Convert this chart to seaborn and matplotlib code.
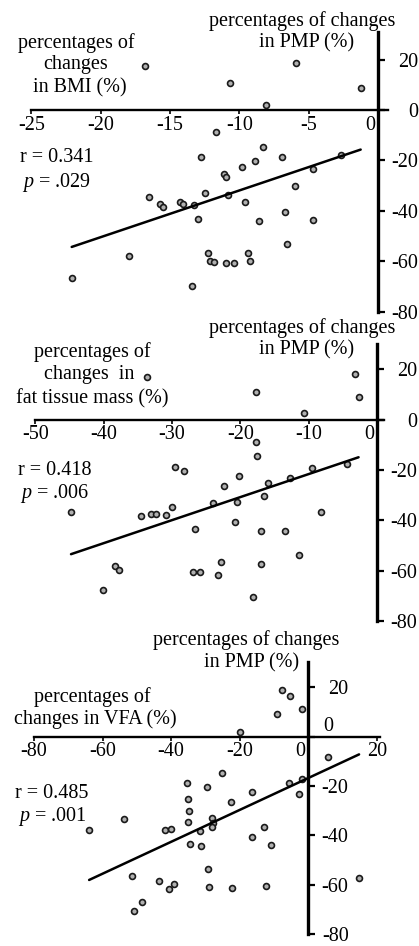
import numpy as np
import pandas as pd
import seaborn as sns
import matplotlib
matplotlib.use("Agg")
import matplotlib.pyplot as plt
from matplotlib.transforms import ScaledTranslation

# ---------------- data ----------------
bmi_x = [-16.8, -10.7, -5.9, -8.1, -1.25, -11.7, -8.3, -12.8, -6.9, -8.9,
         -9.8, -11.1, -11.0, -2.7, -4.7, -6.0, -10.8, -12.5, -16.5, -15.7,
         -15.5, -14.3, -14.1, -13.3, -9.6, -6.7, -13.0, -8.6, -4.7, -6.6,
         -18.0, -12.3, -12.1, -11.8, -11.0, -10.4, -9.4, -9.2, -22.1, -13.4]
bmi_pmp = [17.5, 10.8, 18.7, 1.9, 8.8, -8.7, -14.6, -18.7, -18.7, -20.3,
           -22.7, -25.5, -26.5, -17.8, -23.5, -30.2, -33.6, -33.0, -34.7, -37.5,
           -38.5, -36.5, -37.3, -37.6, -36.6, -40.3, -43.2, -44.0, -43.7, -53.2,
           -57.8, -56.6, -60.0, -60.3, -60.9, -60.9, -56.9, -60.0, -66.7, -69.8]

fat_x = [-33.7, -17.7, -3.2, -2.7, -10.7, -17.7, -44.8, -29.6, -28.2, -34.6,
         -33.1, -32.3, -30.9, -30.0, -26.6, -26.9, -25.9, -38.4, -37.8, -40.1,
         -24.0, -22.4, -20.8, -20.2, -20.5, -23.3, -22.8, -17.6, -15.9, -16.6,
         -17.0, -17.0, -18.1, -12.7, -13.5, -9.5, -8.2, -11.4, -4.4]
fat_pmp = [16.8, 11.0, 18.0, 8.9, 2.4, -9.0, -36.9, -18.7, -20.5, -38.4,
           -37.5, -37.6, -37.7, -34.7, -43.6, -60.7, -60.7, -58.3, -59.7, -67.6,
           -33.1, -26.4, -40.5, -22.4, -32.8, -61.7, -56.7, -14.4, -25.3, -30.4,
           -44.3, -57.3, -70.3, -23.1, -44.3, -19.1, -36.7, -53.6, -17.6]

vfa_x = [-7.8, -5.3, -9.2, -1.7, -19.9, 5.8, -5.5, -1.9, -16.5, -2.6,
         -12.9, -16.3, -10.9, 14.8, -63.9, -53.7, -51.5, -50.7, -48.4, -43.5,
         -40.6, -39.2, -41.8, -40.1, -35.5, -35.0, -34.7, -35.2, -34.5, -31.3,
         -31.6, -29.6, -28.2, -27.9, -28.2, -29.2, -29.0, -22.5, -22.3, -12.3,
         -25.3]
vfa_pmp = [18.9, 16.5, 9.0, 11.2, 2.0, -8.2, -18.9, -17.4, -22.6, -23.2,
           -36.7, -40.6, -44.0, -57.3, -37.7, -33.5, -56.6, -70.5, -67.2, -58.5,
           -61.8, -59.8, -37.7, -37.3, -18.8, -25.4, -30.2, -34.8, -43.7, -44.3,
           -38.4, -20.5, -33.1, -35.1, -36.8, -53.6, -60.9, -26.7, -61.3, -60.6,
           -14.8]

bmi_xticks = [-25, -20, -15, -10, -5, 0]
fat_xticks = [-50, -40, -30, -20, -10, 0]
vfa_xticks = [-80, -60, -40, -20, 0, 20]
pmp_yticks = [20, 0, -20, -40, -60, -80]

stats = [("r = 0.341", "$p$ = .029"),
         ("r = 0.418", "$p$ = .006"),
         ("r = 0.485", "$p$ = .001")]

# ---------------- style ----------------
sns.set_theme(style="white")
plt.rcParams["font.family"] = ["Liberation Serif", "DejaVu Serif"]
plt.rcParams["axes.unicode_minus"] = False
plt.rcParams["mathtext.fontset"] = "custom"
plt.rcParams["mathtext.rm"] = "Liberation Serif"
plt.rcParams["mathtext.it"] = "Liberation Serif:italic"
plt.rcParams["text.color"] = "black"

W, H = 419, 946
FS = 14.5
fig = plt.figure(figsize=(W / 100, H / 100), dpi=100)


def ftext(x, y, s, ha="center"):
    fig.text(x / W, 1 - y / H, s, ha=ha, va="center", fontsize=FS, color="black")


def panel(xs, ys, x0px, xsc, y0px, ysc, xlim, ylim, xticks, xbound, ybound,
          show_y0=True):
    left = x0px + xlim[0] * xsc
    right = x0px + xlim[1] * xsc
    top = y0px - ylim[1] * ysc
    bottom = y0px - ylim[0] * ysc
    ax = fig.add_axes([left / W, 1 - bottom / H, (right - left) / W, (bottom - top) / H])
    ax.set_facecolor("none")
    df = pd.DataFrame({"x": xs, "y": ys})
    sns.regplot(data=df, x="x", y="y", ax=ax, ci=None, truncate=True,
                scatter_kws=dict(s=18, facecolor="#b0b0b0", edgecolor="#1a1a1a",
                                 linewidths=1.2, alpha=1, zorder=3),
                line_kws=dict(color="black", lw=1.8, zorder=4))
    ax.set_xlim(*xlim)
    ax.set_ylim(*ylim)
    ax.set_xlabel("")
    ax.set_ylabel("")
    for s in ("left", "top"):
        ax.spines[s].set_visible(False)
    ax.spines["bottom"].set_position(("data", 0))
    ax.spines["right"].set_position(("data", 0))
    ax.spines["bottom"].set_bounds(*xbound)
    ax.spines["right"].set_bounds(*ybound)
    ax.spines["bottom"].set_linewidth(1.7)
    ax.spines["right"].set_linewidth(2.4)
    ax.spines["bottom"].set_color("black")
    ax.spines["right"].set_color("black")
    ax.spines["bottom"].set_zorder(2)
    ax.spines["right"].set_zorder(2)
    ax.yaxis.set_ticks_position("right")
    ax.xaxis.set_ticks_position("bottom")
    ax.set_xticks(xticks)
    ax.set_xticklabels([str(t) for t in xticks])
    ax.set_yticks(pmp_yticks)
    ax.set_yticklabels([str(t) if (t != 0 or show_y0) else "" for t in pmp_yticks])
    ax.tick_params(axis="x", direction="out", length=3, width=1.2, pad=1,
                   labelsize=FS, colors="black")
    ax.tick_params(axis="y", direction="out", length=5, width=1.6, pad=24,
                   labelsize=FS, colors="black")
    for lab in ax.get_yticklabels():
        lab.set_horizontalalignment("right")
    for t, lab in zip(xticks, ax.get_xticklabels()):
        if t == 0:
            lab.set_transform(lab.get_transform() +
                              ScaledTranslation(-8 / 100, 0, fig.dpi_scale_trans))
    ax.grid(False)
    return ax


# Panel 1: BMI
ax1 = panel(bmi_x, bmi_pmp, 378, 13.86, 110, 2.52, (-25.6, 2.8), (-82, 33),
            bmi_xticks, (-25, 0.7), (-80, 31))
ftext(302, 21, "percentages of changes")
ftext(307, 43, "in PMP (%)")
ftext(76, 43, "percentages of")
ftext(76, 65, "changes")
ftext(80, 88, "in BMI (%)")
ftext(20, 157, stats[0][0], ha="left")
ftext(22, 183, stats[0][1], ha="left")

# Panel 2: fat tissue mass
ax2 = panel(fat_x, fat_pmp, 377, 6.83, 419.5, 2.52, (-51.5, 5.5), (-82, 33),
            fat_xticks, (-50, 1.0), (-80, 30))
ftext(302, 328, "percentages of changes")
ftext(307, 350, "in PMP (%)")
ftext(92, 352, "percentages of")
ftext(89, 375, "changes  in")
ftext(92, 399, "fat tissue mass (%)")
ftext(18, 470, stats[1][0], ha="left")
ftext(20, 493, stats[1][1], ha="left")

# Panel 3: VFA
ax3 = panel(vfa_x, vfa_pmp, 308.3, 3.43, 736.5, 2.47, (-84, 31), (-82, 33),
            vfa_xticks, (-80, 21), (-80, 30), show_y0=False)
ax3.annotate("0", xy=(0, 0), xycoords="data", xytext=(11, 7),
             textcoords="offset points", fontsize=FS, ha="left", va="center",
             color="black")
ftext(246, 640, "percentages of changes")
ftext(252, 663, "in PMP (%)")
ftext(92, 697, "percentages of")
ftext(95, 719, "changes in VFA (%)")
ftext(15, 793, stats[2][0], ha="left")
ftext(18, 816, stats[2][1], ha="left")

fig.savefig("out.png", dpi=100, facecolor="white")
